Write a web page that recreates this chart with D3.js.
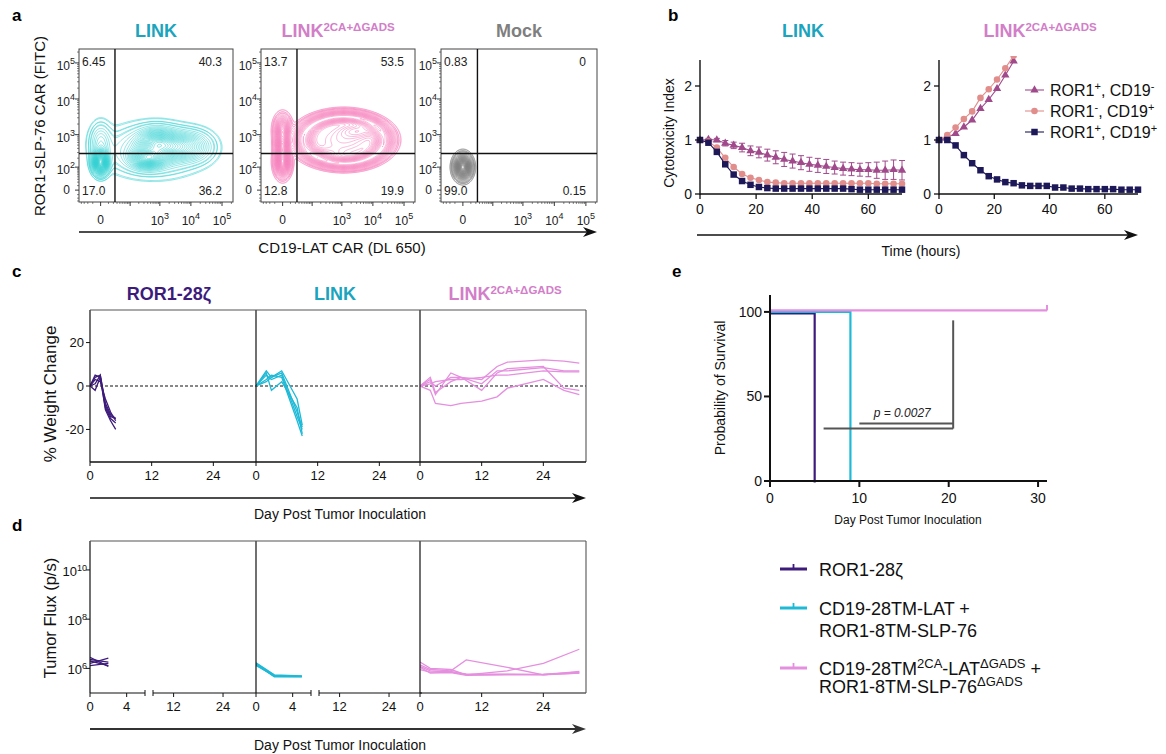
<!DOCTYPE html>
<html><head><meta charset="utf-8">
<script src="https://cdn.jsdelivr.net/npm/d3@7"></script>
<style>body{margin:0;background:#fff}svg{display:block}</style>
</head><body>
<svg id="fig" width="1166" height="754"></svg>
<script>
// ================= DATA =================
// Panel a: flow cytometry
const flowSamples = ["LINK", "LINK2CA", "Mock"];
const flowQuadLabels = [["6.45","40.3","17.0","36.2"],["13.7","53.5","12.8","19.9"],["0.83","0","99.0","0.15"]];
const flowGateX = [24, 24, 24];
const flowGateY = [280, 280, 280];
const flowYTicks = [0, 1e2, 1e3, 1e4, 1e5];
const flowXTicks = [0, 1e3, 1e4, 1e5];
// populations: centre (raw fluorescence), spread (symlog units), weight
const linkPops = [
  {x:0, y:150, sx:0.3, sy:0.4, w:1},
  {x:0, y:600, sx:0.45, sy:0.7, w:0.12},
  {x:400, y:200, sx:0.7, sy:0.35, w:0.55},
  {x:800, y:560, sx:0.8, sy:0.5, w:0.4},
  {x:3500, y:450, sx:0.9, sy:0.5, w:0.28},
  {x:14000, y:450, sx:0.8, sy:0.55, w:0.12},
  {x:600, y:350, sx:1.9, sy:0.85, w:0.16}];
const link2Pops = [
  {x:0, y:150, sx:0.28, sy:0.45, w:1},
  {x:0, y:500, sx:0.28, sy:0.45, w:0.7},
  {x:0, y:1400, sx:0.3, sy:0.45, w:0.55},
  {x:1150, y:700, sx:1.4, sy:0.6, w:0.12},
  {x:1150, y:700, rx:3.0, ry:1.5, sr:0.15, w:0.4, ring:true},
  {x:3500, y:1300, sx:0.9, sy:0.3, w:0.15},
  {x:300, y:260, sx:0.8, sy:0.3, w:0.1}];
const mockPops = [{x:0, y:100, sx:0.31, sy:0.38, w:1}];
const flowPops = [linkPops, link2Pops, mockPops];

// Panel b: cytotoxicity index
const hours = [0,3,6,9,12,15,18,21,24,27,30,33,36,39,42,45,48,51,54,57,60,63,66,69,72];
const linkTri = [1.00,1.01,1.00,0.94,0.90,0.86,0.80,0.77,0.72,0.68,0.64,0.61,0.58,0.55,0.53,0.51,0.49,0.47,0.46,0.45,0.45,0.44,0.44,0.45,0.44];
const linkTriErr = [0,0.02,0.03,0.05,0.06,0.08,0.09,0.10,0.11,0.12,0.13,0.13,0.13,0.13,0.13,0.13,0.12,0.12,0.12,0.12,0.13,0.15,0.17,0.18,0.18];
const linkCirc = [1.00,0.97,0.86,0.67,0.50,0.37,0.30,0.26,0.22,0.21,0.20,0.20,0.20,0.20,0.20,0.20,0.20,0.20,0.20,0.20,0.20,0.19,0.19,0.19,0.19];
const linkSq = [1.00,0.95,0.78,0.55,0.36,0.24,0.17,0.13,0.11,0.10,0.10,0.10,0.10,0.10,0.10,0.10,0.10,0.10,0.09,0.08,0.08,0.08,0.08,0.08,0.08];
const hoursShort = [0,3,6,9,12,15,18,21,24,27];
const link2Tri = [1.00,1.05,1.12,1.24,1.37,1.58,1.75,1.95,2.20,2.46];
const link2Circ = [1.00,1.09,1.23,1.39,1.53,1.78,1.94,2.12,2.33,2.56];
const link2Sq = [1.00,1.00,0.90,0.72,0.57,0.44,0.33,0.27,0.22,0.20,0.16,0.15,0.15,0.15,0.12,0.12,0.10,0.10,0.09,0.09,0.09,0.09,0.08,0.08,0.08];
const bLegend = ["tri","circ","sq"];

// Panel c: % weight change
const weightDaysRor1 = [0,1,2,3,4,5];
const weightRor1 = [[0,4,5,-8,-13,-15],[0,5,4,-10,-15,-17],[0,-2,4,-11,-16,-20],[0,3,2,-6,-12,-16],[0,1,5,-9,-14,-15]];
const weightDaysLink = [0,2,3,5,8,9];
const weightLink = [[0,7,4,7,-6,-18],[0,6,-2,2,-10,-22],[0,5,3,5,-14,-20],[0,3,5,4,-16,-23],[0,2,4,6,-12,-19]];
const weightDaysLink2 = [0,2,3,6,8,12,15,17,24,28,31];
const weightLink2 = [[0,4,-3,2,4,3,9,11,12,11.5,10.5],[0,2,0,4,4,1,7,7,8.5,7,7],[0,1,2,3,3,4,5,5,7,6.5,6.5],[0,3,-4,6,4,-2,6,8,9,-1,-2],[0,-2,-8,-9,-8,-7,-5,-1,3,-2,-4]];
const weightYTicks = [-20, 0, 20];
const dayTicks = [0, 12, 24];

// Panel d: tumour flux
const fluxDaysRor1 = [0,2];
const fluxRor1 = [[2.8e6,1.2e6],[2.3e6,1.8e6],[1.6e6,2.6e6],[2.0e6,1.3e6],[1.3e6,1.6e6]];
const fluxDaysLink = [0,2,5];
const fluxLink = [[1.6e6,5.2e5,4.8e5],[1.4e6,4.8e5,4.6e5],[1.5e6,4.5e5,4.5e5],[1.3e6,5.0e5,4.7e5],[1.7e6,5.5e5,5.0e5]];
const fluxDaysLink2 = [0,2,6,9,17,24,31];
const fluxLink2 = [[1.8e6,1.0e6,9e5,5.5e5,8e5,1.6e6,6e6],[1.4e6,9e5,8e5,2.2e6,1.1e6,5.5e5,6.5e5],[1.1e6,6.5e5,6.8e5,5.2e5,5.5e5,5.5e5,7.5e5],[9e5,7e5,7.5e5,5.6e5,5.7e5,5.8e5,7e5],[1.2e6,8e5,7e5,6e5,5.8e5,5.6e5,6.5e5]];
const fluxYTicks = [1e6, 1e8, 1e10];
const fluxDayTicksA = [0, 4];
const fluxDayTicksB = [12, 24];

// Panel e: survival
const survRor1 = [[0,100],[5,100],[5,0]];
const survLink = [[0,100],[9,100],[9,0]];
const survLink2 = [[0,100],[31,100]];
const survXTicks = [0,10,20,30];
const survYTicks = [0,50,100];
const bracketDays = [6, 10, 20.5];
const bracketVals = [31, 34, 95];
const pText = "p = 0.0027";

// ================= STYLE =================
const C_PURPLE = "#3d1b7b", C_CYAN = "#1fb9d6", C_ORCHID = "#e58fdf";
const T_CYAN = "#1aa4be", T_PINK = "#d27ec8", T_GRAY = "#7f7f7f";
const B_TRI = "#a04a8c", B_CIRC = "#e08d8b", B_SQ = "#1d1858";
const svg = d3.select("#fig").attr("font-family", '"Liberation Sans", Arial, Helvetica, sans-serif');

function rich(g, x, y, parts, o = {}) {
  const size = o.size || 12;
  const t = g.append("text").attr("x", x).attr("y", y).attr("font-size", size)
    .attr("text-anchor", o.anchor || "start").attr("fill", o.fill || "#111")
    .attr("font-weight", o.weight || "normal");
  if (o.style) t.attr("font-style", o.style);
  let shift = 0;
  parts.forEach(p => {
    const isSup = typeof p === "object";
    const target = isSup ? -(o.supShift || size * 0.42) : 0;
    const ts = t.append("tspan").attr("dy", target - shift).text(isSup ? p.sup : p);
    if (isSup) ts.attr("font-size", o.supSize || size * 0.68);
    shift = target;
  });
  return t;
}
function arrow(g, x1, x2, y, color = "#111", w = 1.4) {
  g.append("line").attr("x1", x1).attr("x2", x2 - 6).attr("y1", y).attr("y2", y)
    .attr("stroke", color).attr("stroke-width", w);
  g.append("path").attr("d", `M${x2},${y} L${x2-14},${y-5} L${x2-10},${y} L${x2-14},${y+5} Z`).attr("fill", color);
}
function line(g, x1, y1, x2, y2, color = "#111", w = 1) {
  return g.append("line").attr("x1", x1).attr("y1", y1).attr("x2", x2).attr("y2", y2)
    .attr("stroke", color).attr("stroke-width", w);
}
function panelLetter(x, y, s) {
  svg.append("text").attr("x", x).attr("y", y).attr("font-size", 17).attr("font-weight", "bold").text(s);
}
function titleText(g, x, y, s, color) {
  if (s === "LINK2CA") {
    rich(g, x, y, ["LINK", {sup: "2CA+\u0394GADS"}], {size: 18, weight: "bold", fill: color, anchor: "middle", supSize: 11.5, supShift: 6});
  } else {
    g.append("text").attr("x", x).attr("y", y).attr("font-size", 18).attr("font-weight", "bold")
      .attr("fill", color).attr("text-anchor", "middle").text(s);
  }
}
let clipId = 0;
function clip(x, y, w, h) {
  const id = "cl" + (clipId++);
  svg.append("clipPath").attr("id", id).append("rect").attr("x", x).attr("y", y).attr("width", w).attr("height", h);
  return `url(#${id})`;
}

// ================= PANEL A =================
panelLetter(12, 21, "a");
const aG = svg.append("g");
const fTop = 49, fBot = 202;
const boxX = [[79, 233], [261, 415], [441, 597]];
const flowColors = ["#2fcfd2", "#f583bd", "#7d7d7d"];
const flowTitleColors = [T_CYAN, T_PINK, T_GRAY];
const xConst = 12.7, yConst = 30;
const T = (v, c) => Math.sign(v) * Math.log1p(Math.abs(v) / c);
const supDigits = v => String(Math.round(Math.log10(v)));

flowSamples.forEach((name, k) => {
  const [x0, x1] = boxX[k];
  const xs = d3.scaleSymlog().constant(xConst).domain([-50, 2.25e5]).range([x0, x1]);
  const ys = d3.scaleSymlog().constant(yConst).domain([-34, 2.43e5]).range([fBot, fTop]);
  const pops = flowPops[k];
  const cell = 1.1, nx = Math.ceil((x1 - x0) / cell), ny = Math.ceil((fBot - fTop) / cell);
  const vals = new Float64Array(nx * ny);
  for (let j = 0; j < ny; j++) {
    const ty = T(ys.invert(fTop + (j + 0.5) * cell), yConst);
    for (let i = 0; i < nx; i++) {
      const tx = T(xs.invert(x0 + (i + 0.5) * cell), xConst);
      let s = 0;
      pops.forEach(p => {
        const cx = T(p.x, xConst), cy = T(p.y, yConst);
        if (p.ring) {
          const r = Math.hypot((tx - cx) / p.rx, (ty - cy) / p.ry);
          s += p.w * Math.exp(-((r - 1) ** 2) / (2 * p.sr * p.sr));
        } else {
          s += p.w * Math.exp(-((tx - cx) ** 2 / (2 * p.sx * p.sx) + (ty - cy) ** 2 / (2 * p.sy * p.sy)));
        }
      });
      vals[j * nx + i] = s;
    }
  }
  const mx = d3.max(vals), N = 40;
  const th = [0.012, 0.022, 0.035].concat(d3.range(1, N).map(i => Math.pow(i / N, 1.25))).map(f => f * mx);
  const cs = d3.contours().size([nx, ny]).thresholds(th)(vals);
  const path = d3.geoPath(d3.geoIdentity().scale(cell).translate([x0, fTop]));
  aG.append("g").attr("clip-path", clip(x0, fTop, x1 - x0, fBot - fTop))
    .selectAll("path").data(cs).join("path").attr("d", path)
    .attr("fill", "none").attr("stroke", flowColors[k]).attr("stroke-width", 0.55);
  aG.append("rect").attr("x", x0).attr("y", fTop).attr("width", x1 - x0).attr("height", fBot - fTop)
    .attr("fill", "none").attr("stroke", "#444").attr("stroke-width", 1);
  line(aG, xs(flowGateX[k]), fTop, xs(flowGateX[k]), fBot, "#111", 1.4);
  line(aG, x0, ys(flowGateY[k]), x1, ys(flowGateY[k]), "#111", 1.4);
  const yMinor = [-30,-20,-10,10,20,30,40,50,60,70,80,90,200,300,400,500,600,700,800,900,2000,3000,4000,5000,6000,7000,8000,9000,2e4,3e4,4e4,5e4,6e4,7e4,8e4,9e4,2e5];
  yMinor.forEach(v => line(aG, x0 - 2, ys(v), x0, ys(v), "#333", 0.6));
  flowYTicks.forEach(v => {
    line(aG, x0 - 4, ys(v), x0, ys(v), "#222", 0.9);
    if (v === 0) aG.append("text").attr("x", x0 - 9).attr("y", ys(v) + 4).attr("font-size", 12).attr("text-anchor", "end").attr("fill", "#222").text("0");
    else rich(aG, x0 - 4, ys(v) + 7, ["10", {sup: supDigits(v)}], {size: 12, anchor: "end", fill: "#222", supShift: 6, supSize: 9});
  });
  const xMinor = [-40,-30,-20,-10,10,20,30,40,50,60,70,80,90,200,300,400,500,600,700,800,900,2000,3000,4000,5000,6000,7000,8000,9000,2e4,3e4,4e4,5e4,6e4,7e4,8e4,9e4,2e5];
  xMinor.forEach(v => line(aG, xs(v), fBot, xs(v), fBot + 2, "#333", 0.6));
  [100].concat(flowXTicks).forEach(v => line(aG, xs(v), fBot, xs(v), fBot + 4, "#222", 0.9));
  flowXTicks.forEach(v => {
    if (v === 0) aG.append("text").attr("x", xs(v)).attr("y", 224).attr("font-size", 12).attr("text-anchor", "middle").attr("fill", "#222").text("0");
    else rich(aG, xs(v), 225, ["10", {sup: supDigits(v)}], {size: 12, anchor: "middle", fill: "#222", supShift: 6, supSize: 9});
  });
  const q = flowQuadLabels[k];
  const qt = (x, y, s, anc) => aG.append("text").attr("x", x).attr("y", y).attr("font-size", 12).attr("text-anchor", anc).attr("fill", "#222").text(s);
  qt(x0 + 3, 66, q[0], "start"); qt(x1 - 11, 66, q[1], "end");
  qt(x0 + 3, 195, q[2], "start"); qt(x1 - 11, 195, q[3], "end");
  titleText(aG, (x0 + x1) / 2, 37, name, flowTitleColors[k]);
});
aG.append("text").attr("x", 40).attr("y", 126).attr("font-size", 15).attr("text-anchor", "middle")
  .attr("transform", "rotate(-90,40,126)").attr("dy", 5).attr("fill", "#111").text("ROR1-SLP-76 CAR (FITC)");
arrow(aG, 79, 597, 232);
aG.append("text").attr("x", 342).attr("y", 253).attr("font-size", 15).attr("text-anchor", "middle").attr("fill", "#111").text("CD19-LAT CAR (DL 650)");

// ================= PANEL B =================
panelLetter(668, 21, "b");
const bG = svg.append("g");
const bY = d3.scaleLinear().domain([0, 2.5]).range([194, 59]);
const sym = {
  tri: d3.symbol(d3.symbolTriangle, 30),
  circ: d3.symbol(d3.symbolCircle, 34),
  sq: d3.symbol(d3.symbolSquare, 42)
};
const symColor = {tri: B_TRI, circ: B_CIRC, sq: B_SQ};
function bPlot(x0, x1, series) {
  const bX = d3.scaleLinear().domain([0, 72]).range([x0, x1]);
  const g = bG.append("g");
  const dg = g.append("g").attr("clip-path", clip(x0 - 6, 56, x1 - x0 + 12, 150));
  series.forEach(s => {
    const pts = s.t.map((t, i) => [t, s.v[i], s.e ? s.e[i] : 0]);
    if (s.e) {
      pts.forEach(p => {
        if (p[2] <= 0) return;
        line(dg, bX(p[0]), bY(p[1] - p[2]), bX(p[0]), bY(p[1] + p[2]), symColor[s.k], 1);
        line(dg, bX(p[0]) - 3, bY(p[1] + p[2]), bX(p[0]) + 3, bY(p[1] + p[2]), symColor[s.k], 1);
        line(dg, bX(p[0]) - 3, bY(p[1] - p[2]), bX(p[0]) + 3, bY(p[1] - p[2]), symColor[s.k], 1);
      });
    }
    dg.append("path").attr("d", d3.line().x(p => bX(p[0])).y(p => bY(p[1]))(pts))
      .attr("fill", "none").attr("stroke", symColor[s.k]).attr("stroke-width", 1.1);
    dg.selectAll(null).data(pts).join("path").attr("d", sym[s.k])
      .attr("transform", p => `translate(${bX(p[0])},${bY(p[1])})`).attr("fill", symColor[s.k]);
  });
  line(g, x0, bY(0), x1, bY(0), "#111", 1.4);
  line(g, x0, bY(0) + 0.7, x0, 60, "#111", 1.4);
  [0, 1, 2].forEach(v => {
    line(g, x0 - 5, bY(v), x0, bY(v), "#111", 1.3);
    g.append("text").attr("x", x0 - 8).attr("y", bY(v) + 5).attr("font-size", 14).attr("text-anchor", "end").attr("fill", "#111").text(v);
  });
  [0, 20, 40, 60].forEach(v => {
    line(g, bX(v), bY(0), bX(v), bY(0) + 5, "#111", 1.3);
    g.append("text").attr("x", bX(v)).attr("y", 214).attr("font-size", 14).attr("text-anchor", "middle").attr("fill", "#111").text(v);
  });
}
bPlot(700, 902, [
  {k: "tri", t: hours, v: linkTri, e: linkTriErr},
  {k: "circ", t: hours, v: linkCirc},
  {k: "sq", t: hours, v: linkSq}]);
bPlot(939, 1138, [
  {k: "tri", t: hoursShort, v: link2Tri},
  {k: "circ", t: hoursShort, v: link2Circ},
  {k: "sq", t: hours, v: link2Sq}]);
titleText(bG, 803, 37, "LINK", T_CYAN);
titleText(bG, 1040, 37, "LINK2CA", T_PINK);
bG.append("text").attr("x", 669).attr("y", 133).attr("font-size", 14).attr("text-anchor", "middle")
  .attr("transform", "rotate(-90,669,133)").attr("dy", 5).attr("fill", "#111").text("Cytotoxicity Index");
const bLegParts = [
  ["ROR1", {sup: "+"}, ", CD19", {sup: "-"}],
  ["ROR1", {sup: "-"}, ", CD19", {sup: "+"}],
  ["ROR1", {sup: "+"}, ", CD19", {sup: "+"}]];
bLegend.forEach((k, i) => {
  const y = 90 + i * 21;
  line(bG, 1025, y, 1044, y, symColor[k], 1.1);
  bG.append("path").attr("d", sym[k]).attr("transform", `translate(1034.5,${y})`).attr("fill", symColor[k]);
  rich(bG, 1050, y + 6, bLegParts[i], {size: 16, fill: "#111", supShift: 6, supSize: 11});
});
arrow(bG, 697, 1138, 235);
bG.append("text").attr("x", 921).attr("y", 256).attr("font-size", 14).attr("text-anchor", "middle").attr("fill", "#111").text("Time (hours)");

// ================= PANEL C =================
panelLetter(12, 277, "c");
const cG = svg.append("g");
const subX = [90, 256, 420], subW = 166, cRight = 586;
const cTop = 310, cBot = 462;
const cY = d3.scaleLinear().domain([-35, 35]).range([cBot, cTop]);
const groupColors = [C_PURPLE, C_CYAN, C_ORCHID];
const groupTitles = ["ROR1-28\u03B6", "LINK", "LINK2CA"];
const titleColors = [C_PURPLE, T_CYAN, T_PINK];
const cDays = [weightDaysRor1, weightDaysLink, weightDaysLink2];
const cVals = [weightRor1, weightLink, weightLink2];
cG.append("line").attr("x1", 90).attr("x2", cRight).attr("y1", cY(0)).attr("y2", cY(0))
  .attr("stroke", "#111").attr("stroke-width", 1).attr("stroke-dasharray", "3,2");
subX.forEach((x0, k) => {
  const xs = d3.scaleLinear().domain([0, 32.3]).range([x0, x0 + subW]);
  const lg = cG.append("g").attr("clip-path", clip(x0, cTop, subW, cBot - cTop));
  cVals[k].forEach(vs => {
    lg.append("path").attr("d", d3.line().x((d, i) => xs(cDays[k][i])).y(d => cY(d))(vs))
      .attr("fill", "none").attr("stroke", groupColors[k]).attr("stroke-width", 1.3);
  });
  line(cG, x0, cTop, x0, cBot, "#111", 1.2);
  dayTicks.forEach(v => {
    line(cG, xs(v), cBot, xs(v), cBot + 4, "#111", 1);
    cG.append("text").attr("x", xs(v)).attr("y", 480).attr("font-size", 13).attr("text-anchor", "middle").attr("fill", "#111").text(v);
  });
  if (k === 2) titleText(cG, x0 + subW / 2 + 2, 300, "LINK2CA", titleColors[k]);
  else titleText(cG, x0 + subW / 2 - 4, 300, groupTitles[k], titleColors[k]);
});
line(cG, 90, cTop, cRight, cTop, "#555", 1.1);
line(cG, cRight, cTop, cRight, cBot, "#555", 1.1);
line(cG, 90, cBot, cRight, cBot, "#111", 1.3);
weightYTicks.forEach(v => {
  line(cG, 86, cY(v), 90, cY(v), "#111", 1);
  cG.append("text").attr("x", 84).attr("y", cY(v) + 4.5).attr("font-size", 13).attr("text-anchor", "end").attr("fill", "#111").text(v);
});
cG.append("text").attr("x", 50).attr("y", 394).attr("font-size", 17).attr("text-anchor", "middle")
  .attr("transform", "rotate(-90,50,394)").attr("dy", 6).attr("fill", "#111").text("% Weight Change");
arrow(cG, 90, 586, 498);
cG.append("text").attr("x", 340).attr("y", 519).attr("font-size", 14).attr("text-anchor", "middle").attr("fill", "#111").text("Day Post Tumor Inoculation");

// ================= PANEL D =================
panelLetter(12, 531, "d");
const dG = svg.append("g");
const dTop = 541, dBot = 693;
const dY = d3.scaleLog().domain([1e5, 1.5e11]).range([dBot, dTop]);
const dDays = [fluxDaysRor1, fluxDaysLink, fluxDaysLink2];
const dVals = [fluxRor1, fluxLink, fluxLink2];
subX.forEach((x0, k) => {
  const broken = k < 2;
  const xA = d3.scaleLinear().domain([0, 6]).range([x0, x0 + 55]);
  const xB = d3.scaleLinear().domain([7, 32]).range([x0 + 63, x0 + subW]);
  const xF = d3.scaleLinear().domain([0, 32.3]).range([x0, x0 + subW]);
  const xs = broken ? (v => (v <= 6 ? xA(v) : xB(v))) : xF;
  const lg = dG.append("g").attr("clip-path", clip(x0, dTop, subW, dBot - dTop));
  dVals[k].forEach(vs => {
    lg.append("path").attr("d", d3.line().x((d, i) => xs(dDays[k][i])).y(d => dY(d))(vs))
      .attr("fill", "none").attr("stroke", groupColors[k]).attr("stroke-width", 1.3);
  });
  line(dG, x0, dTop, x0, dBot, "#111", 1.2);
  const ticks = broken ? fluxDayTicksA.concat(fluxDayTicksB) : dayTicks;
  ticks.forEach(v => {
    line(dG, xs(v), dBot, xs(v), dBot + 4, "#111", 1);
    dG.append("text").attr("x", xs(v)).attr("y", 711).attr("font-size", 13).attr("text-anchor", "middle").attr("fill", "#111").text(v);
  });
  if (broken) {
    line(dG, x0, dBot, x0 + 55, dBot, "#111", 1.2);
    line(dG, x0 + 55, dBot - 3, x0 + 55, dBot + 3, "#111", 1);
    line(dG, x0 + 63, dBot - 3, x0 + 63, dBot + 3, "#111", 1);
    line(dG, x0 + 63, dBot, x0 + subW, dBot, "#111", 1.2);
  } else {
    line(dG, x0, dBot, x0 + subW, dBot, "#111", 1.2);
  }
});
line(dG, 90, dTop, cRight, dTop, "#555", 1.1);
line(dG, cRight, dTop, cRight, dBot, "#555", 1.1);
fluxYTicks.forEach(v => {
  line(dG, 86, dY(v), 90, dY(v), "#111", 1);
  rich(dG, 87, dY(v) + 6, ["10", {sup: supDigits(v)}], {size: 13, anchor: "end", fill: "#111", supShift: 5, supSize: 9});
});
dG.append("text").attr("x", 50).attr("y", 618).attr("font-size", 16.5).attr("text-anchor", "middle")
  .attr("transform", "rotate(-90,50,618)").attr("dy", 6).attr("fill", "#111").text("Tumor Flux (p/s)");
arrow(dG, 90, 586, 729, "#333", 2);
dG.append("text").attr("x", 340).attr("y", 750).attr("font-size", 14).attr("text-anchor", "middle").attr("fill", "#111").text("Day Post Tumor Inoculation");

// ================= PANEL E =================
panelLetter(672, 277, "e");
const eG = svg.append("g");
const eX = d3.scaleLinear().domain([0, 31]).range([770, 1047]);
const eY = d3.scaleLinear().domain([0, 110]).range([481, 295]);
const survSets = [[survRor1, C_PURPLE, 1.5], [survLink, C_CYAN, 0], [survLink2, C_ORCHID, -1.5]];
survSets.forEach(([data, col, off]) => {
  eG.append("path").attr("d", d3.line().x(d => eX(d[0])).y(d => eY(d[1]) + off)(data))
    .attr("fill", "none").attr("stroke", col).attr("stroke-width", 2.2);
});
line(eG, eX(31), eY(100) - 1.5, eX(31), eY(100) - 7, C_ORCHID, 2);
line(eG, eX(bracketDays[0]), eY(bracketVals[0]), eX(bracketDays[2]), eY(bracketVals[0]), "#555", 2);
line(eG, eX(bracketDays[1]), eY(bracketVals[1]), eX(bracketDays[2]), eY(bracketVals[1]), "#555", 2);
line(eG, eX(bracketDays[2]), eY(bracketVals[0]), eX(bracketDays[2]), eY(bracketVals[2]), "#555", 2);
eG.append("text").attr("x", eX(14.8)).attr("y", 417).attr("font-size", 12).attr("font-style", "italic")
  .attr("text-anchor", "middle").attr("fill", "#222").text(pText);
line(eG, 770, eY(0), 1047, eY(0), "#111", 2);
line(eG, 770, eY(0) + 1, 770, 295, "#111", 2);
survYTicks.forEach(v => {
  line(eG, 764, eY(v), 770, eY(v), "#111", 2);
  eG.append("text").attr("x", 762).attr("y", eY(v) + 5).attr("font-size", 14).attr("text-anchor", "end").attr("fill", "#111").text(v);
});
survXTicks.forEach(v => {
  line(eG, eX(v), eY(0), eX(v), eY(0) + 6, "#111", 2);
  eG.append("text").attr("x", eX(v)).attr("y", 503).attr("font-size", 14).attr("text-anchor", "middle").attr("fill", "#111").text(v);
});
eG.append("text").attr("x", 908).attr("y", 524).attr("font-size", 12).attr("text-anchor", "middle").attr("fill", "#111").text("Day Post Tumor Inoculation");
eG.append("text").attr("x", 720).attr("y", 388).attr("font-size", 14).attr("text-anchor", "middle")
  .attr("transform", "rotate(-90,720,388)").attr("dy", 5).attr("fill", "#111").text("Probability of Survival");

const legRows = [
  {c: C_PURPLE, y: 569, lines: [["ROR1-28\u03B6"]]},
  {c: C_CYAN, y: 608, lines: [["CD19-28TM-LAT +"], ["ROR1-8TM-SLP-76"]]},
  {c: C_ORCHID, y: 668, lines: [["CD19-28TM", {sup: "2CA"}, "-LAT", {sup: "\u0394GADS"}, " +"], ["ROR1-8TM-SLP-76", {sup: "\u0394GADS"}]]}];
legRows.forEach(r => {
  line(eG, 780, r.y, 807, r.y, r.c, 3);
  line(eG, 793.5, r.y, 793.5, r.y - 5, r.c, 1.8);
  r.lines.forEach((parts, i) => {
    rich(eG, 819, r.y + 7 + i * (r.c === C_ORCHID ? 18 : 22), parts, {size: 18, fill: "#111", supShift: 7, supSize: 13});
  });
});
</script>
</body></html>
